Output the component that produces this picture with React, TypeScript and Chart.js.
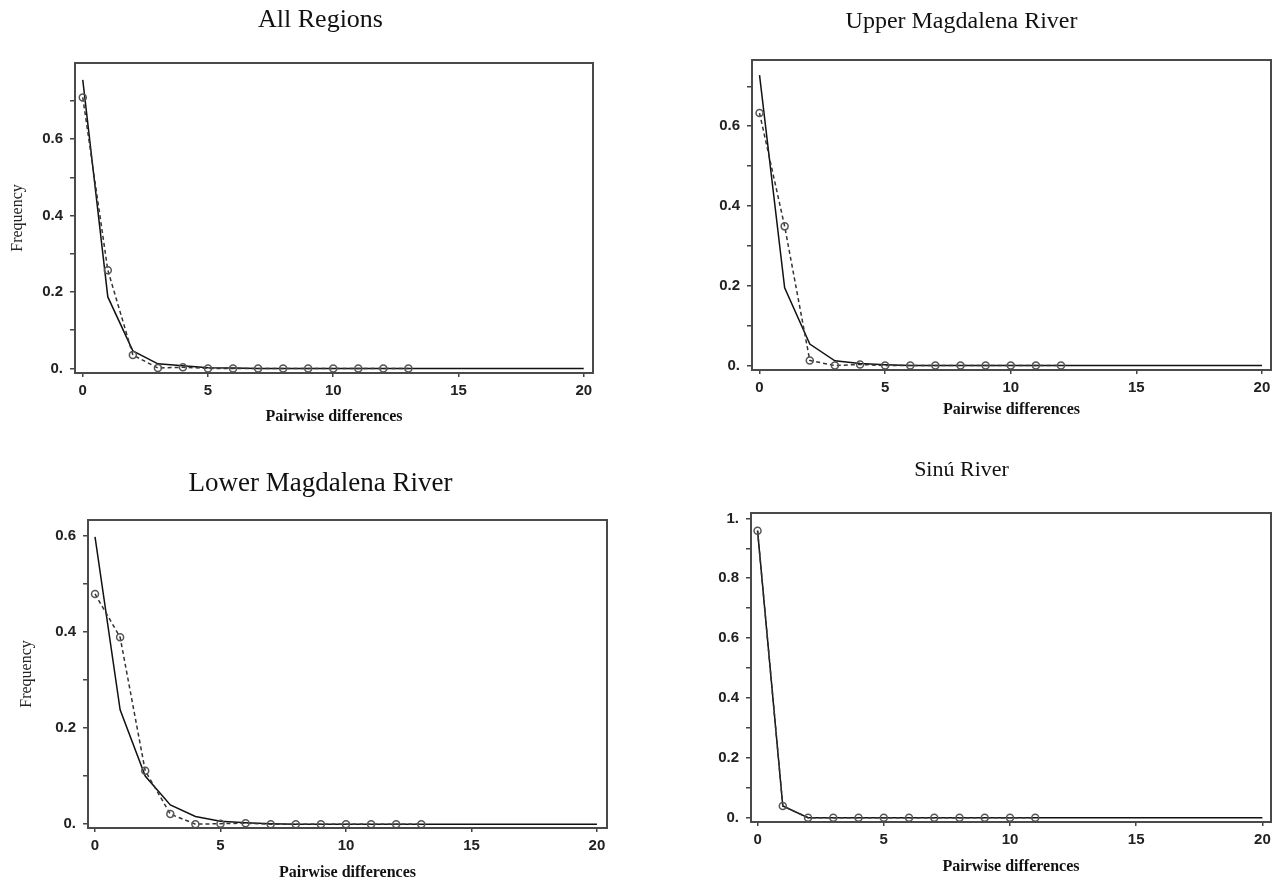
import React, { useEffect, useRef } from 'react';
import { Chart, registerables } from 'chart.js';

Chart.register(...registerables);

// ---- Data ----
const pairwiseDifferences = [0, 1, 2, 3, 4, 5, 6, 7, 8, 9, 10, 11, 12, 13, 14, 15, 16, 17, 18, 19, 20];
const xTickValues = [0, 5, 10, 15, 20];

const allRegionsExpected = [0.755, 0.187, 0.046, 0.012, 0.007, 0.002, 0.001, 0, 0, 0, 0, 0, 0, 0, 0, 0, 0, 0, 0, 0, 0];
const allRegionsObserved = [0.709, 0.257, 0.035, 0.001, 0.003, 0, 0, 0, 0, 0, 0, 0, 0, 0];

const upperMagdalenaExpected = [0.728, 0.195, 0.054, 0.012, 0.005, 0.002, 0, 0, 0, 0, 0, 0, 0, 0, 0, 0, 0, 0, 0, 0, 0];
const upperMagdalenaObserved = [0.633, 0.349, 0.013, 0, 0.003, 0, 0, 0, 0, 0, 0, 0, 0];

const lowerMagdalenaExpected = [0.598, 0.238, 0.1, 0.04, 0.016, 0.006, 0.003, 0.001, 0, 0, 0, 0, 0, 0, 0, 0, 0, 0, 0, 0, 0];
const lowerMagdalenaObserved = [0.479, 0.389, 0.111, 0.021, 0, 0.001, 0.002, 0, 0, 0, 0, 0, 0, 0];

const sinuExpected = [0.959, 0.039, 0, 0, 0, 0, 0, 0, 0, 0, 0, 0, 0, 0, 0, 0, 0, 0, 0, 0, 0];
const sinuObserved = [0.959, 0.039, 0, 0, 0, 0, 0, 0, 0, 0, 0, 0];

const panelTitles = ['All Regions', 'Upper Magdalena River', 'Lower Magdalena River', 'Sinú River'];
const xAxisTitle = 'Pairwise differences';
const yAxisTitle = 'Frequency';

// ---- Layout / style per panel ----
const W = 641;
const H = 443;

const panels = [
  {
    title: panelTitles[0], expected: allRegionsExpected, observed: allRegionsObserved,
    left: 0, top: 0,
    box: { L: 75, R: 593, T: 63, B: 373 },
    titleFont: 26, titleCenter: 20, xTitleCenter: 417, yTitle: true, yTitleX: 18,
    xMin: -0.31, xMax: 20.37, yMin: -0.012, yMax: 0.799,
  },
  {
    title: panelTitles[1], expected: upperMagdalenaExpected, observed: upperMagdalenaObserved,
    left: 641, top: 0,
    box: { L: 111, R: 630, T: 60, B: 370 },
    titleFont: 24, titleCenter: 22, xTitleCenter: 410, yTitle: false, yTitleX: 0,
    xMin: -0.3, xMax: 20.36, yMin: -0.011, yMax: 0.766,
  },
  {
    title: panelTitles[2], expected: lowerMagdalenaExpected, observed: lowerMagdalenaObserved,
    left: 0, top: 443,
    box: { L: 88, R: 607, T: 77, B: 385 },
    titleFont: 27, titleCenter: 41, xTitleCenter: 430, yTitle: true, yTitleX: 27,
    xMin: -0.28, xMax: 20.4, yMin: -0.008, yMax: 0.633,
  },
  {
    title: panelTitles[3], expected: sinuExpected, observed: sinuObserved,
    left: 641, top: 443,
    box: { L: 110, R: 630, T: 70, B: 379 },
    titleFont: 22, titleCenter: 27, xTitleCenter: 424, yTitle: false, yTitleX: 0,
    xMin: -0.26, xMax: 20.34, yMin: -0.0145, yMax: 1.018,
  },
];

const framePlugin = {
  id: 'frame',
  afterDatasetsDraw(chart: any) {
    const { ctx, chartArea } = chart;
    const { left, top, right, bottom } = chartArea;
    ctx.save();
    ctx.strokeStyle = '#4a4a4a';
    ctx.lineWidth = 2;
    ctx.strokeRect(left, top, right - left, bottom - top);
    ctx.restore();
  },
};

const tickFont = { family: "'Liberation Sans', Arial, sans-serif", size: 15, weight: 'bold' as const };

function formatY(v: number) {
  const r = Math.round(v * 10);
  if (r % 2 !== 0) return '';
  if (r === 0) return '0.';
  if (r === 10) return '1.';
  return (r / 10).toFixed(1);
}

function Panel({ p }: { p: any }) {
  const ref = useRef<HTMLCanvasElement | null>(null);
  useEffect(() => {
    if (!ref.current) return;
    const lh = p.titleFont * 1.2;
    const tPadTop = p.titleCenter - lh / 2;
    const tPadBottom = p.box.T - tPadTop - lh;
    const xAxisH = H - p.box.B;
    const xtLh = 16 * 1.2;
    const xtPadBottom = H - xtLh / 2 - p.xTitleCenter;
    const ytLh = 16 * 1.2;
    const ytPadTop = p.yTitleX - ytLh / 2;

    const chart = new Chart(ref.current, {
      type: 'scatter',
      data: {
        datasets: [
          {
            label: 'Observed',
            data: p.observed.map((v: number, i: number) => ({ x: pairwiseDifferences[i], y: v })),
            showLine: true,
            borderColor: '#333',
            borderWidth: 1.5,
            borderDash: [4, 3],
            pointRadius: 3.5,
            pointBorderWidth: 1.5,
            pointBorderColor: '#555',
            pointBackgroundColor: 'rgba(255,255,255,0)',
          },
          {
            label: 'Expected',
            data: p.expected.map((v: number, i: number) => ({ x: pairwiseDifferences[i], y: v })),
            showLine: true,
            borderColor: '#111',
            borderWidth: 1.5,
            pointRadius: 0,
          },
        ],
      },
      options: {
        animation: false,
        responsive: false,
        maintainAspectRatio: false,
        devicePixelRatio: 1,
        layout: { padding: 0 },
        plugins: {
          legend: { display: false },
          tooltip: { enabled: false },
          title: {
            display: true,
            text: p.title,
            color: '#111',
            font: { family: "'Liberation Serif', 'Times New Roman', serif", size: p.titleFont, weight: 'normal' },
            padding: { top: tPadTop, bottom: tPadBottom },
          },
        },
        scales: {
          x: {
            type: 'linear',
            min: p.xMin,
            max: p.xMax,
            afterBuildTicks: (scale: any) => {
              scale.ticks = xTickValues.map((v) => ({ value: v }));
            },
            afterFit: (scale: any) => {
              scale.height = xAxisH;
            },
            ticks: {
              autoSkip: false,
              maxRotation: 0,
              padding: 5,
              color: '#222',
              font: tickFont,
              callback: (v: any) => String(v),
            },
            grid: { display: true, drawOnChartArea: false, drawTicks: true, tickLength: 4, color: '#444', lineWidth: 1.5 },
            border: { display: false },
            title: {
              display: true,
              text: xAxisTitle,
              color: '#111',
              font: { family: "'Liberation Serif', 'Times New Roman', serif", size: 16, weight: 'bold' },
              padding: { top: 0, bottom: xtPadBottom },
            },
          },
          y: {
            type: 'linear',
            position: 'left',
            min: p.yMin,
            max: p.yMax,
            afterFit: (scale: any) => {
              scale.width = p.box.L;
            },
            ticks: {
              stepSize: 0.1,
              includeBounds: false,
              autoSkip: false,
              padding: 7,
              color: '#222',
              font: tickFont,
              callback: (v: any) => formatY(Number(v)),
            },
            grid: { display: true, drawOnChartArea: false, drawTicks: true, tickLength: 5, color: '#444', lineWidth: 1.5 },
            border: { display: false },
            title: {
              display: p.yTitle,
              text: yAxisTitle,
              color: '#222',
              font: { family: "'Liberation Serif', 'Times New Roman', serif", size: 16, weight: 'normal' },
              padding: { top: ytPadTop, bottom: 0 },
            },
          },
          yRight: {
            type: 'linear',
            position: 'right',
            display: true,
            afterFit: (scale: any) => {
              scale.width = W - p.box.R;
            },
            ticks: { display: false },
            grid: { display: false },
            border: { display: false },
          },
        },
      },
      plugins: [framePlugin],
    } as any);
    return () => chart.destroy();
  }, [p]);

  return (
    <div style={{ position: 'absolute', left: p.left, top: p.top, width: W, height: H }}>
      <canvas ref={ref} width={W} height={H} style={{ display: 'block', width: W, height: H }} />
    </div>
  );
}

export default function App() {
  return (
    <div style={{ position: 'absolute', left: 0, top: 0, width: 1282, height: 886, background: '#fff' }}>
      {panels.map((p, i) => (
        <Panel key={i} p={p} />
      ))}
    </div>
  );
}
